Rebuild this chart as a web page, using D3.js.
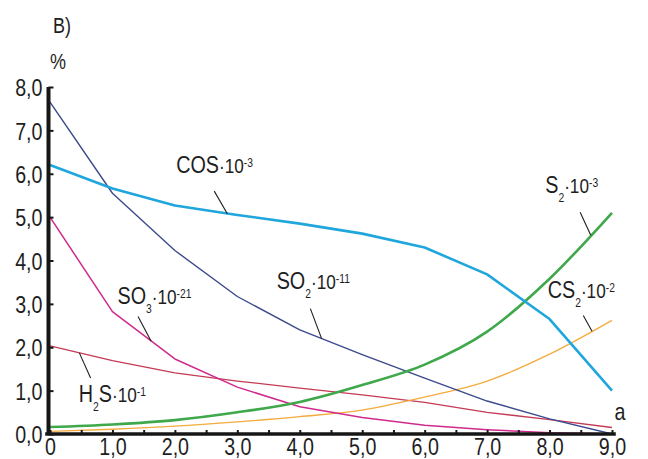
<!DOCTYPE html>
<html>
<head>
<meta charset="utf-8">
<script src="https://cdn.jsdelivr.net/npm/d3@7/dist/d3.min.js"></script>
<style>
  html, body { margin: 0; padding: 0; background: #fff; }
  svg { display: block; }
  text { font-family: "Liberation Sans", Arial, sans-serif; fill: #1e1e1e; }
</style>
</head>
<body>
<svg id="chart" width="648" height="459"></svg>
<script>
// Abscissa values (a) and tick labels
const aValues = [0, 1, 2, 3, 4, 5, 6, 7, 8, 9];
const xTickLabels = ["0", "1,0", "2,0", "3,0", "4,0", "5,0", "6,0", "7,0", "8,0", "9,0"];
const yTickValues = [0, 1, 2, 3, 4, 5, 6, 7, 8];
const yTickLabels = ["0,0", "1,0", "2,0", "3,0", "4,0", "5,0", "6,0", "7,0", "8,0"];

// Scaled content of each species, %
const so2 = [7.65, 5.55, 4.23, 3.17, 2.4, 1.83, 1.29, 0.76, 0.35, 0.0];
const cos = [6.2, 5.66, 5.27, 5.05, 4.85, 4.62, 4.3, 3.68, 2.65, 1.0];
const so3 = [5.0, 2.82, 1.73, 1.08, 0.63, 0.38, 0.2, 0.1, 0.03, 0.0];
const h2s = [2.03, 1.69, 1.41, 1.22, 1.06, 0.9, 0.73, 0.5, 0.33, 0.15];
const s2  = [0.16, 0.22, 0.32, 0.5, 0.74, 1.13, 1.6, 2.36, 3.58, 5.1];
const cs2 = [0.06, 0.11, 0.18, 0.28, 0.4, 0.55, 0.85, 1.22, 1.84, 2.62];

const series = [
  { name: "H2S", values: h2s, color: "#c53a55", width: 1.3, smooth: false },
  { name: "CS2", values: cs2, color: "#f4aa3c", width: 1.3, smooth: true },
  { name: "SO3", values: so3, color: "#cf2a8d", width: 1.5, smooth: false },
  { name: "SO2", values: so2, color: "#3b4a8c", width: 1.4, smooth: false },
  { name: "S2",  values: s2,  color: "#3ea84b", width: 2.6, smooth: true },
  { name: "COS", values: cos, color: "#1fa6dc", width: 2.6, smooth: false }
];

const svg = d3.select("#chart");
const x = d3.scaleLinear().domain([0, 9]).range([50, 612]);
const y = d3.scaleLinear().domain([0, 8]).range([434, 87]);
const narrow = 0.82;

// Curves
const straight = d3.line().x((d, i) => x(aValues[i])).y(d => y(d)).curve(d3.curveLinear);
const smooth = d3.line().x((d, i) => x(aValues[i])).y(d => y(d)).curve(d3.curveMonotoneX);
svg.append("g").selectAll("path").data(series).join("path")
  .attr("d", d => (d.smooth ? smooth : straight)(d.values))
  .attr("fill", "none")
  .attr("stroke", d => d.color)
  .attr("stroke-width", d => d.width)
  .attr("stroke-linejoin", "round");

// Axes
const xAxis = d3.axisBottom(x)
  .tickValues(d3.range(0, 9.01, 0.5))
  .tickSize(-4).tickSizeOuter(0)
  .tickFormat(d => Number.isInteger(d) ? xTickLabels[d] : "");
const gx = svg.append("g").attr("transform", `translate(0,${y(0)})`).call(xAxis);
gx.select(".domain").attr("stroke", "#161616").attr("stroke-width", 3.6).attr("stroke-linecap", "square")
  .attr("d", `M${x(0) - 3},0H${x(9) + 2}`);
gx.selectAll(".tick line").attr("stroke", "#161616").attr("stroke-width", 2);
gx.selectAll(".tick text")
  .attr("font-size", 24).attr("fill", "#1e1e1e")
  .attr("y", 0).attr("dy", 21)
  .attr("transform", `scale(${narrow},1)`);

const yAxis = d3.axisLeft(y)
  .tickValues(yTickValues)
  .tickSize(-5).tickSizeOuter(0)
  .tickFormat((d, i) => yTickLabels[i]);
const gy = svg.append("g").attr("transform", `translate(${x(0) - 1.5},0)`).call(yAxis);
gy.select(".domain").attr("stroke", "#161616").attr("stroke-width", 4)
  .attr("d", `M0,${y(0)}V${y(8)}`);
gy.selectAll(".tick line").attr("stroke", "#161616").attr("stroke-width", 2);
gy.selectAll(".tick text")
  .attr("font-size", 24).attr("fill", "#1e1e1e")
  .attr("x", -6 / narrow).attr("dy", "0.36em")
  .attr("transform", `scale(${narrow},1)`);

// Axis captions
function plainText(px, py, str, size, anchor) {
  svg.append("text")
    .attr("transform", `translate(${px},${py}) scale(${narrow},1)`)
    .attr("font-size", size)
    .attr("text-anchor", anchor || "start")
    .text(str);
}
plainText(53, 33, "В)", 22);
plainText(50, 69, "%", 22);
plainText(x(9.04), 420, "a", 24);

// Curve labels with leader lines (positions in data units)
const labels = [
  { at: [2.02, 6.01], parts: ["COS", null, "-3"], lead: [[2.63, 5.6], [2.84, 5.08]] },
  { at: [1.08, 3.0],  parts: ["SO", "3", "-21"], lead: [[1.41, 2.71], [1.62, 2.14]] },
  { at: [0.46, 0.74], parts: ["H", "2", "-1"], tail: "S", lead: [[0.65, 1.29], [0.47, 1.87]] },
  { at: [3.63, 3.35], parts: ["SO", "2", "-11"], lead: [[4.17, 2.89], [4.35, 2.2]] },
  { at: [7.93, 5.55], parts: ["S", "2", "-3"], lead: [[8.49, 5.11], [8.66, 4.58]] },
  { at: [7.97, 3.14], parts: ["CS", "2", "-2"], lead: [[8.54, 2.73], [8.68, 2.37]] }
];

const lab = svg.append("g");
labels.forEach(L => {
  lab.append("line")
    .attr("x1", x(L.lead[0][0])).attr("y1", y(L.lead[0][1]))
    .attr("x2", x(L.lead[1][0])).attr("y2", y(L.lead[1][1]))
    .attr("stroke", "#1e1e1e").attr("stroke-width", 1.1);
  const t = lab.append("text")
    .attr("transform", `translate(${x(L.at[0])},${y(L.at[1])}) scale(0.86,1)`)
    .attr("font-size", 23);
  const [main, sub, sup] = L.parts;
  t.append("tspan").text(main);
  let shift = 0;
  if (sub) {
    t.append("tspan").attr("font-size", 12).attr("dy", 9).text(sub);
    shift = 9;
  }
  if (L.tail) {
    t.append("tspan").attr("dy", -shift).text(L.tail);
    shift = 0;
  }
  t.append("tspan").attr("font-size", 20).attr("dy", -shift).text("·10");
  t.append("tspan").attr("font-size", 12).attr("dy", -6).text(sup);
});
</script>
</body>
</html>
